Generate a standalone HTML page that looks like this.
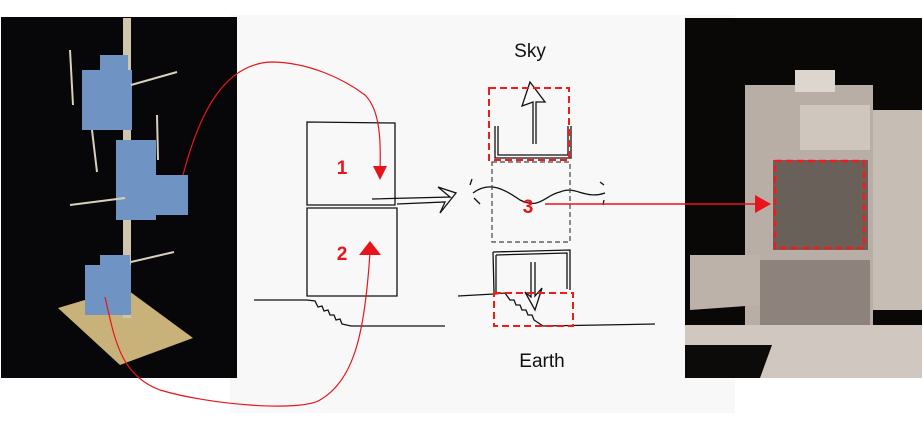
<!DOCTYPE html>
<html><head><meta charset="utf-8"><style>
html,body{margin:0;padding:0;background:#fff;width:923px;height:439px;overflow:hidden}
svg{display:block}
</style></head><body>
<svg width="923" height="439" viewBox="0 0 923 439" xmlns="http://www.w3.org/2000/svg">
<rect x="230" y="15" width="505" height="398" fill="#f8f8f8"/>
<!-- left photo -->
<rect x="1" y="17" width="236" height="361" fill="#070709"/>
<polygon points="58,308 125,288 193,338 120,365" fill="#c9b27a"/>
<rect x="123" y="18" width="8" height="300" fill="#cfc6b0"/>
<g fill="#6f94c4">
<rect x="82" y="70" width="50" height="60"/><rect x="100" y="55" width="28" height="18"/>
<rect x="148" y="175" width="40" height="40"/><rect x="116" y="140" width="40" height="80"/>
<rect x="85" y="265" width="46" height="50"/><rect x="100" y="255" width="30" height="20"/>
</g>
<g stroke="#d8d0bd" stroke-width="2">
<line x1="131" y1="85" x2="177" y2="72"/><line x1="70" y1="205" x2="125" y2="198"/><line x1="131" y1="262" x2="174" y2="252"/>
<line x1="70" y1="50" x2="73" y2="105"/><line x1="92" y1="130" x2="97" y2="172"/><line x1="157" y1="115" x2="158" y2="160"/>
</g>
<!-- right photo -->
<rect x="685" y="18" width="237" height="360" fill="#0a0807"/>
<rect x="745" y="85" width="128" height="245" fill="#b9aea5"/>
<rect x="773" y="160" width="95" height="90" fill="#6a605a"/>
<rect x="873" y="110" width="49" height="200" fill="#c6bdb5"/>
<polygon points="690,255 760,255 760,305 690,310" fill="#bdb2aa"/>
<rect x="685" y="325" width="237" height="53" fill="#d0c8c0"/>
<polygon points="685,345 772,345 760,378 685,378" fill="#0d0b0a"/>
<rect x="760" y="260" width="110" height="65" fill="#8e837c"/>
<rect x="795" y="70" width="40" height="22" fill="#ddd6ce"/>
<rect x="800" y="105" width="70" height="45" fill="#cfc6bd"/>
<rect x="775" y="161" width="89" height="87" fill="none" stroke="#f01c1c" stroke-width="2.5" stroke-dasharray="7,4"/>
<!-- sketch -->
<g fill="none" stroke="#111" stroke-width="1.3">
<path d="M307,122 L395,123 L395,205 L307,205 Z"/>
<path d="M307,208 L397,208 L397,296 L307,296 Z"/>
<path d="M254,300 L307,300 L315,301 L318,307 L322,306 L324,311 L328,310 L330,315 L334,315 L336,320 L340,319 L342,324 L351,326 L445,326"/>
<path d="M372,199 L450,197 L438,187 L456,193 L440,213 L445,202 L397,204"/>
<path d="M495,126 L495,158 L571,158 L571,126 M498,126 L498,155 L568,155 L568,126"/>
<path d="M533,144 L533,102 L522,106 L530,82 L545,102 L536,102 L536,144"/>
<path d="M493,252 L570,250 L570,290 M496,255 L567,253 L567,289 M493,252 L494,292 M496,255 L496,292"/>
<path d="M531,262 L531,297 L525,292 L535,310 L542,288 L535,296 L535,262"/>
<path d="M458,296 L494,294 L505,293 L510,300 L514,300 L516,305 L520,305 L522,310 L526,310 L528,315 L532,315 L534,320 L543,326 L655,324"/>
<path d="M473,193 C490,180 505,190 520,200 C540,210 545,195 560,192 C575,185 585,200 605,193"/>
<path d="M470,185 L472,179 M474,198 L480,204 M600,182 L604,185 M604,200 L603,205"/>
</g>
<rect x="492" y="162" width="78" height="80" fill="none" stroke="#444" stroke-width="1.2" stroke-dasharray="5,3"/>
<rect x="489" y="88" width="80" height="72" fill="none" stroke="#f01c1c" stroke-width="2" stroke-dasharray="7,4"/>
<rect x="494" y="293" width="79" height="33" fill="none" stroke="#f01c1c" stroke-width="2" stroke-dasharray="7,4"/>
<text x="530" y="57" font-family="Liberation Sans, sans-serif" font-size="19" fill="#111" text-anchor="middle">Sky</text>
<text x="542" y="367" font-family="Liberation Sans, sans-serif" font-size="19" fill="#111" text-anchor="middle">Earth</text>
<g font-family="Liberation Sans, sans-serif" font-size="19" font-weight="bold" fill="#e8141c" text-anchor="middle">
<text x="342" y="174">1</text><text x="342" y="260">2</text><text x="528" y="213">3</text>
</g>
<!-- red connectors -->
<g fill="none" stroke="#e8141c" stroke-width="1.2">
<path d="M183,175 C200,110 225,65 270,62 C310,62 345,80 365,95 C380,110 381,140 380,170"/>
<path d="M105,297 C115,340 120,375 160,390 C210,405 300,412 320,400 C355,380 365,330 370,252"/>
</g>
<line x1="545" y1="204" x2="760" y2="204" stroke="#e8141c" stroke-width="1.5"/>
<polygon points="373,166 387,166 380,180" fill="#e8141c"/>
<polygon points="359,255 381,255 370,241" fill="#e8141c"/>
<polygon points="755,195 755,213 771,204" fill="#e8141c"/>
</svg>
</body></html>
